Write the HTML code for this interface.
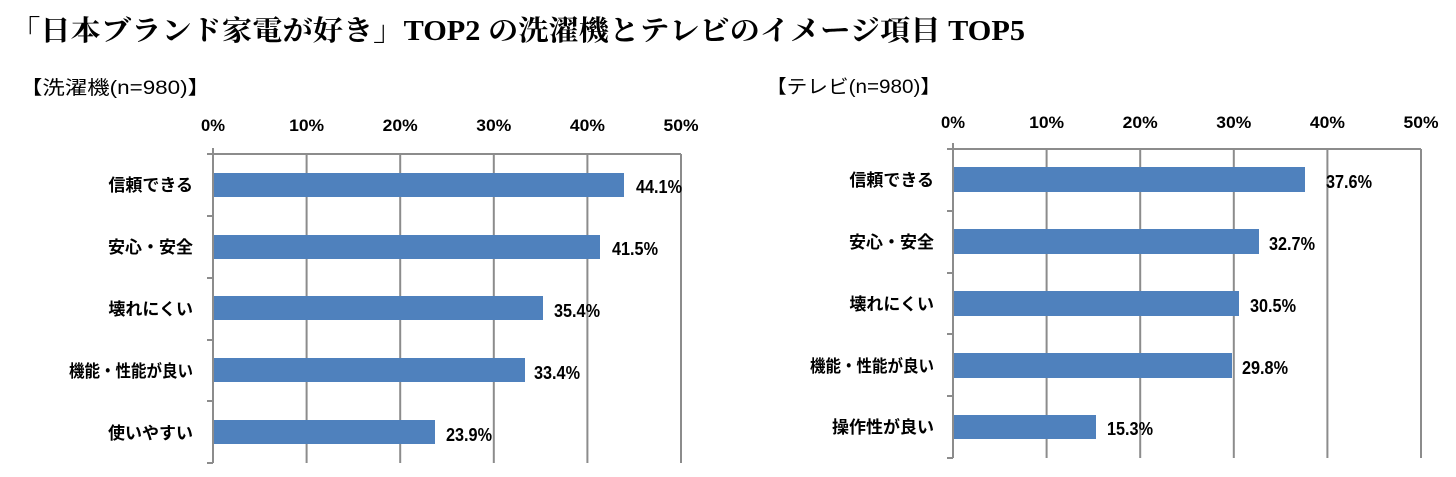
<!DOCTYPE html>
<html><head><meta charset="utf-8"><style>
html,body{margin:0;padding:0;background:#fff;}
svg{display:block}
.t{font-family:"Liberation Serif","Noto Serif CJK SC",serif;font-size:28px;font-weight:bold;}
.s{font-family:"Liberation Sans","Noto Sans CJK JP",sans-serif;font-size:19px;}
.ax{font-family:"Liberation Sans",sans-serif;font-size:17px;font-weight:bold;}
.cat{font-family:"Liberation Sans","Noto Sans CJK JP",sans-serif;font-size:17px;font-weight:bold;}
.v{font-family:"Liberation Sans",sans-serif;font-size:18px;font-weight:bold;}
</style></head><body>
<svg width="1456" height="477" xmlns="http://www.w3.org/2000/svg">
<text class="t" x="10" y="40" textLength="1015" lengthAdjust="spacingAndGlyphs">「日本ブランド家電が好き」TOP2 の洗濯機とテレビのイメージ項目 TOP5</text>
<text class="s" x="20" y="94" textLength="190" lengthAdjust="spacingAndGlyphs">【洗濯機(n=980)】</text>
<text class="s" x="766" y="93" textLength="175" lengthAdjust="spacingAndGlyphs">【テレビ(n=980)】</text>

<g stroke="#8c8c8c" stroke-width="2" fill="none">
<line x1="213" y1="154" x2="681" y2="154"/>
<line x1="213" y1="154" x2="213" y2="463"/>
<line x1="306.6" y1="154" x2="306.6" y2="463"/>
<line x1="400.2" y1="154" x2="400.2" y2="463"/>
<line x1="493.8" y1="154" x2="493.8" y2="463"/>
<line x1="587.4" y1="154" x2="587.4" y2="463"/>
<line x1="681" y1="154" x2="681" y2="463"/>
<line x1="207" y1="154" x2="213" y2="154"/>
<line x1="207" y1="216" x2="213" y2="216"/>
<line x1="207" y1="278" x2="213" y2="278"/>
<line x1="207" y1="340" x2="213" y2="340"/>
<line x1="207" y1="401" x2="213" y2="401"/>
<line x1="207" y1="463" x2="213" y2="463"/>
<line x1="213" y1="148" x2="213" y2="154"/>
</g>
<g fill="#4f81bd">
<rect x="214" y="173" width="410" height="24"/>
<rect x="214" y="235" width="386" height="24"/>
<rect x="214" y="296" width="329" height="24"/>
<rect x="214" y="358" width="311" height="24"/>
<rect x="214" y="420" width="221" height="24"/>
</g>
<g class="ax" text-anchor="middle">
<text x="213" y="131" textLength="24" lengthAdjust="spacingAndGlyphs">0%</text><text x="306.6" y="131" textLength="35" lengthAdjust="spacingAndGlyphs">10%</text><text x="400.2" y="131" textLength="35" lengthAdjust="spacingAndGlyphs">20%</text><text x="493.8" y="131" textLength="35" lengthAdjust="spacingAndGlyphs">30%</text><text x="587.4" y="131" textLength="35" lengthAdjust="spacingAndGlyphs">40%</text><text x="681" y="131" textLength="35" lengthAdjust="spacingAndGlyphs">50%</text>
</g>
<g class="cat" text-anchor="end">
<text x="193" y="191">信頼できる</text>
<text x="193" y="253">安心・安全</text>
<text x="193" y="315">壊れにくい</text>
<text x="193" y="377" textLength="124" lengthAdjust="spacingAndGlyphs">機能・性能が良い</text>
<text x="193" y="439">使いやすい</text>
</g>
<g class="v">
<text x="636" y="193" textLength="46" lengthAdjust="spacingAndGlyphs">44.1%</text>
<text x="612" y="255" textLength="46" lengthAdjust="spacingAndGlyphs">41.5%</text>
<text x="554" y="317" textLength="46" lengthAdjust="spacingAndGlyphs">35.4%</text>
<text x="534" y="379" textLength="46" lengthAdjust="spacingAndGlyphs">33.4%</text>
<text x="446" y="441" textLength="46" lengthAdjust="spacingAndGlyphs">23.9%</text>
</g>

<g stroke="#8c8c8c" stroke-width="2" fill="none">
<line x1="953" y1="149" x2="1421" y2="149"/>
<line x1="953" y1="149" x2="953" y2="458"/>
<line x1="1046.6" y1="149" x2="1046.6" y2="458"/>
<line x1="1140.2" y1="149" x2="1140.2" y2="458"/>
<line x1="1233.8" y1="149" x2="1233.8" y2="458"/>
<line x1="1327.4" y1="149" x2="1327.4" y2="458"/>
<line x1="1421" y1="149" x2="1421" y2="458"/>
<line x1="947" y1="149" x2="953" y2="149"/>
<line x1="947" y1="211" x2="953" y2="211"/>
<line x1="947" y1="273" x2="953" y2="273"/>
<line x1="947" y1="334" x2="953" y2="334"/>
<line x1="947" y1="396" x2="953" y2="396"/>
<line x1="947" y1="458" x2="953" y2="458"/>
<line x1="953" y1="143" x2="953" y2="149"/>
</g>
<g fill="#4f81bd">
<rect x="954" y="167" width="351" height="25"/>
<rect x="954" y="229" width="305" height="25"/>
<rect x="954" y="291" width="285" height="25"/>
<rect x="954" y="353" width="278" height="25"/>
<rect x="954" y="415" width="142" height="24"/>
</g>
<g class="ax" text-anchor="middle">
<text x="953" y="128" textLength="24" lengthAdjust="spacingAndGlyphs">0%</text><text x="1046.6" y="128" textLength="35" lengthAdjust="spacingAndGlyphs">10%</text><text x="1140.2" y="128" textLength="35" lengthAdjust="spacingAndGlyphs">20%</text><text x="1233.8" y="128" textLength="35" lengthAdjust="spacingAndGlyphs">30%</text><text x="1327.4" y="128" textLength="35" lengthAdjust="spacingAndGlyphs">40%</text><text x="1421" y="128" textLength="35" lengthAdjust="spacingAndGlyphs">50%</text>
</g>
<g class="cat" text-anchor="end">
<text x="934" y="186">信頼できる</text>
<text x="934" y="248">安心・安全</text>
<text x="934" y="310">壊れにくい</text>
<text x="934" y="372" textLength="124" lengthAdjust="spacingAndGlyphs">機能・性能が良い</text>
<text x="934" y="433">操作性が良い</text>
</g>
<g class="v">
<text x="1326" y="188" textLength="46" lengthAdjust="spacingAndGlyphs">37.6%</text>
<text x="1269" y="250" textLength="46" lengthAdjust="spacingAndGlyphs">32.7%</text>
<text x="1250" y="312" textLength="46" lengthAdjust="spacingAndGlyphs">30.5%</text>
<text x="1242" y="374" textLength="46" lengthAdjust="spacingAndGlyphs">29.8%</text>
<text x="1107" y="435" textLength="46" lengthAdjust="spacingAndGlyphs">15.3%</text>
</g>
</svg>
</body></html>
